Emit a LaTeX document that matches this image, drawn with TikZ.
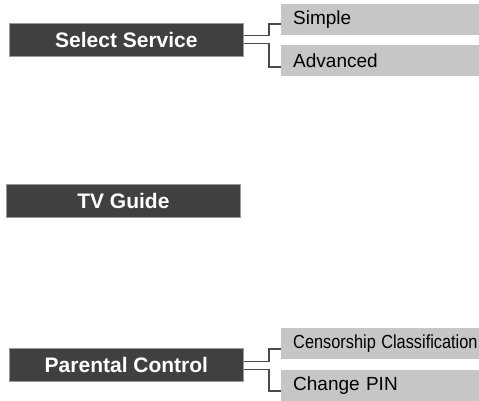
\documentclass[tikz,border=0pt]{standalone}
\usepackage{fontspec}
\setmainfont{Liberation Sans}
\definecolor{darkfill}{HTML}{404040}
\definecolor{darkedge}{HTML}{9A9A9A}
\definecolor{lightfill}{HTML}{C6C6C6}
\definecolor{linecol}{HTML}{4A4A4A}
\begin{document}
\begin{tikzpicture}[x=1pt,y=-1pt,
  mainbox/.style={rectangle, fill=darkfill, draw=darkedge, line width=0.8pt, text=white,
    minimum width=234pt, minimum height=33pt, anchor=north west, inner sep=0pt,
    font=\fontsize{21}{25}\selectfont\bfseries},
  subbox/.style={rectangle, fill=lightfill, minimum width=198pt, minimum height=31pt,
    anchor=north west, inner sep=0pt, text width=186pt, align=left,
    font=\fontsize{19}{23}\selectfont},
  conn/.style={draw=linecol, line width=1.6pt}]
\useasboundingbox (0,0) rectangle (479,400);
\fill[white] (0,0) rectangle (479,400);

\node[mainbox] (ss) at (9,23) {Select Service};
\node[mainbox] (tv) at (6,184) {TV Guide};
\node[mainbox] (pc) at (9,348) {Parental Control};

\node[subbox] (simple) at (281,4) {\hspace*{6pt}Simple};
\node[subbox] (adv) at (281,45) {\hspace*{6pt}Advanced};
\node[subbox] (cens) at (281,328) {\hspace*{6pt}\scalebox{0.86}[1]{Censorship Classification}};
\node[subbox] (pin) at (281,370) {\hspace*{6pt}Change PIN};

\draw[conn] ([yshift=4.5pt]ss.east) -- ++(25,0) |- ([yshift=-4.5pt]simple.west);
\draw[conn] ([yshift=-3.5pt]ss.east) -- ++(25,0) |- ([yshift=-6.5pt]adv.west);
\draw[conn] ([yshift=3.5pt]pc.east) -- ++(25,0) |- ([yshift=-5pt]cens.west);
\draw[conn] ([yshift=-4.5pt]pc.east) -- ++(25,0) |- ([yshift=-5pt]pin.west);
\end{tikzpicture}
\end{document}
